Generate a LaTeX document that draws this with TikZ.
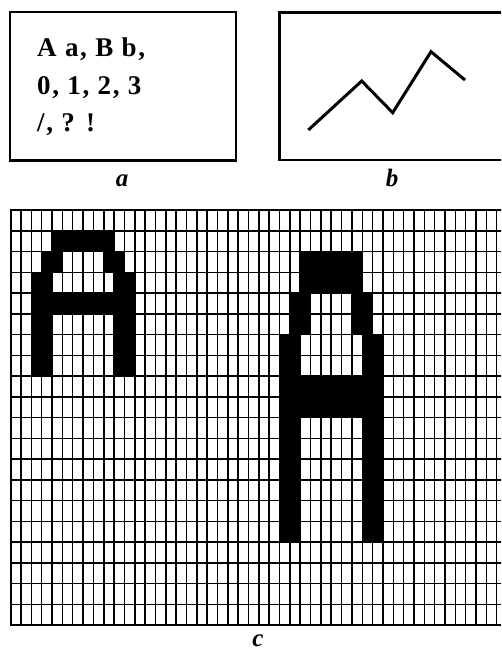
\documentclass[tikz,border=0pt]{standalone}
\usepackage{fontspec}
\setmainfont{Liberation Serif}
\newfontfamily\boxfont[LetterSpace=6]{Liberation Serif}
\begin{document}
\begin{tikzpicture}[x=1pt,y=-1pt,
  boxline/.style={line width=2.6pt},
  zig/.style={line width=3pt,line join=miter},
  gridln/.style={line width=1.5pt},
  gridborder/.style={line width=2.4pt},
  boxtext/.style={anchor=base west,inner sep=0pt,font=\boxfont\fontsize{27}{30}\selectfont\bfseries},
  lbl/.style={anchor=base,inner sep=0pt,font=\fontsize{25}{30}\selectfont\bfseries\itshape}]
\useasboundingbox (0,0) rectangle (501,652);
\clip (0,0) rectangle (501,652);
% panel a
\draw[boxline] (10,12) rectangle (236,160.5);
\node[boxtext] (t1) at (37,57) {A a, B b,};
\node[boxtext] (t2) at (37,94.5) {0, 1, 2, 3};
\node[boxtext] (t3) at (37,132) {/, ? !};
\node[lbl] (la) at (122,187) {a};
% panel b
\draw[boxline] (520,12.7) -- (279.5,12.7) -- (279.5,160) -- (520,160);
\coordinate (z1) at (308.3,130);
\coordinate (z2) at (361.7,81);
\coordinate (z3) at (392.7,112.7);
\coordinate (z4) at (431,51.7);
\coordinate (z5) at (465,80);
\draw[zig] (z1) -- (z2) -- (z3) -- (z4) -- (z5);
\node[lbl] (lb) at (392,186.7) {b};
% panel c
\begin{scope}[shift={(10.7pt,-210pt)},x=10.34pt,y=-20.75pt]
  % small A
  \fill (4,1) rectangle (10,2);
  \fill (3,2) rectangle (5,3);  \fill (9,2) rectangle (11,3);
  \fill (2,3) rectangle (4,4);  \fill (10,3) rectangle (12,4);
  \fill (2,4) rectangle (12,5);
  \fill (2,5) rectangle (4,8);  \fill (10,5) rectangle (12,8);
  % large A
  \fill (28,2) rectangle (34,4);
  \fill (27,4) rectangle (29,6); \fill (33,4) rectangle (35,6);
  \fill (26,6) rectangle (28,8); \fill (34,6) rectangle (36,8);
  \fill (26,8) rectangle (36,10);
  \fill (26,10) rectangle (28,16); \fill (34,10) rectangle (36,16);
  % grid
  \foreach \j in {1,...,19} \draw[gridln] (0,\j) -- (49,\j);
  \foreach \i in {1,...,48} \draw[gridln] (\i,0) -- (\i,20);
  \draw[gridborder] (49,0) -- (0,0) -- (0,20) -- (49,20);
\end{scope}
\node[lbl] (lc) at (258,646) {c};
\end{tikzpicture}
\end{document}
